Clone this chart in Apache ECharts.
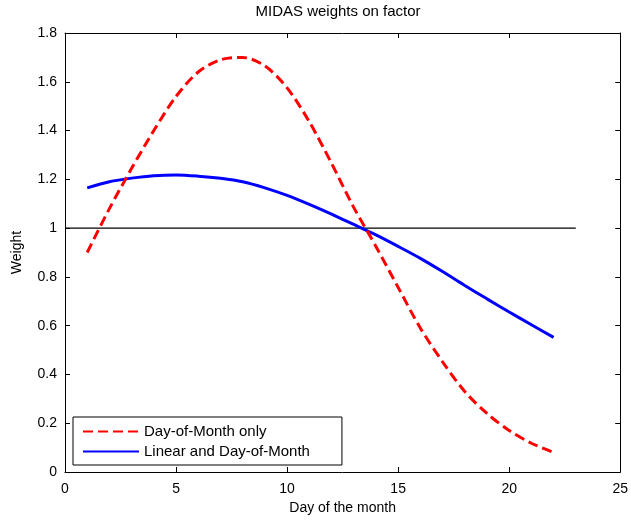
<!DOCTYPE html>
<html>
<head>
<meta charset="utf-8">
<script src="https://cdn.jsdelivr.net/npm/echarts@6/dist/echarts.min.js"></script>
<style>html,body{margin:0;padding:0;background:#fff;}#c{width:631px;height:521px;}</style>
</head>
<body>
<div id="c"></div>
<script>
const days = [1,2,3,4,5,6,7,8,9,10,11,12,13,14,15,16,17,18,19,20,21,22];
const dayOfMonthOnly = [0.90,1.08,1.245,1.40,1.54,1.64,1.69,1.70,1.665,1.575,1.436,1.266,1.085,0.925,0.757,0.59,0.452,0.33,0.24,0.17,0.118,0.08];
const linearAndDayOfMonth = [1.165,1.19,1.205,1.215,1.218,1.213,1.204,1.19,1.165,1.134,1.097,1.057,1.015,0.972,0.925,0.876,0.822,0.765,0.71,0.656,0.604,0.552];
const refLineX = [0, 23];
const refLineY = [1, 1];
const seriesNames = ['Day-of-Month only', 'Linear and Day-of-Month'];
const titleText = 'MIDAS weights on factor';
const xName = 'Day of the month';
const yName = 'Weight';

const FONT = '"Liberation Sans", Arial, Helvetica, sans-serif';
const chart = echarts.init(document.getElementById('c'), null, {renderer: 'canvas'});
const pair = (xs, ys) => xs.map((x, i) => [x, ys[i]]);
const txt = {color: '#000', fontFamily: FONT, fontSize: 14};
const txtBig = {color: '#000', fontFamily: FONT, fontSize: 15};

const axisCommonX = {
  type: 'value', min: 0, max: 25, interval: 5,
  axisLine: {show: true, onZero: false, lineStyle: {color: '#000', width: 1}},
  axisTick: {show: true, inside: true, length: 5, lineStyle: {color: '#000'}},
  splitLine: {show: false}
};
const axisCommonY = {
  type: 'value', min: 0, max: 1.8, interval: 0.2,
  axisLine: {show: true, onZero: false, lineStyle: {color: '#000', width: 1}},
  axisTick: {show: true, inside: true, length: 5, lineStyle: {color: '#000'}},
  splitLine: {show: false}
};

chart.setOption({
  animation: false,
  backgroundColor: '#fff',
  title: {
    text: titleText, left: 338, top: 4, textAlign: 'center', padding: 0,
    textStyle: Object.assign({}, txtBig, {fontWeight: 'normal'})
  },
  grid: {left: 65, right: 8, top: 33, bottom: 49, containLabel: false},
  xAxis: [
    Object.assign({}, axisCommonX, {
      position: 'bottom', name: xName, nameLocation: 'middle', nameGap: 28,
      nameTextStyle: txt,
      axisLabel: Object.assign({}, txt, {margin: 10})
    }),
    Object.assign({}, axisCommonX, {position: 'top', axisLabel: {show: false}})
  ],
  yAxis: [
    Object.assign({}, axisCommonY, {
      position: 'left', name: yName, nameLocation: 'middle', nameGap: 41,
      nameTextStyle: txt,
      axisLabel: Object.assign({}, txt, {margin: 8})
    }),
    Object.assign({}, axisCommonY, {position: 'right', axisLabel: {show: false}})
  ],
  legend: {
    data: seriesNames,
    orient: 'vertical',
    left: 73, top: 417,
    padding: [7, 32, 6, 9],
    itemGap: 5,
    itemWidth: 56, itemHeight: 16,
    borderColor: '#000', borderWidth: 1, borderRadius: 0,
    backgroundColor: '#fff',
    itemStyle: {opacity: 0},
    textStyle: txtBig,
    selectedMode: false
  },
  series: [
    {
      name: 'ref', type: 'line', data: pair(refLineX, refLineY),
      symbol: 'none', silent: true,
      lineStyle: {color: '#000', width: 1.2}, z: 1
    },
    {
      name: seriesNames[0], type: 'line', data: pair(days, dayOfMonthOnly),
      symbol: 'none', smooth: 0.3, color: '#ff0000',
      lineStyle: {color: '#ff0000', width: 3, type: [10, 5]}, z: 3
    },
    {
      name: seriesNames[1], type: 'line', data: pair(days, linearAndDayOfMonth),
      symbol: 'none', smooth: 0.3, color: '#0000ff',
      lineStyle: {color: '#0000ff', width: 3, type: 'solid'}, z: 2
    }
  ]
});
</script>
</body>
</html>
